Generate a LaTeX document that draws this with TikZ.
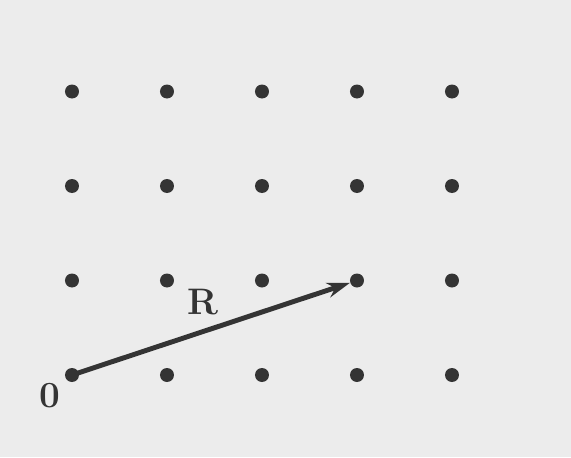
\documentclass[tikz,border=0pt]{standalone}
\usepackage{tikz}
\usetikzlibrary{arrows.meta,positioning}
\definecolor{paper}{RGB}{236,236,236}
\definecolor{ink}{RGB}{52,52,52}
\tikzset{
  latpt/.style  ={circle, fill=ink, minimum size=2.8mm, inner sep=0pt},
  vecarr/.style ={-{Stealth[length=4.6mm, width=3mm]}, line width=2.8pt, ink},
  lbl/.style    ={font=\fontsize{21}{25}\selectfont\bfseries, text=ink, inner sep=0pt},
}
\begin{document}
\begin{tikzpicture}[>=Stealth]
\fill[paper] (-1.44,-1.64) rectangle (9.98,7.50);
\useasboundingbox (-1.44,-1.64) rectangle (9.98,7.50);
\foreach \i in {0,...,4}
  \foreach \j in {0,...,3}
    \node[latpt] (d-\i-\j) at (1.9*\i,1.89*\j) {};
\draw[vecarr] (d-0-0.center) -- (d-3-1);
\node[lbl] (lR) at (2.62,1.46) {R};
\node[lbl, below left=0.05cm and 0.12cm of d-0-0] (l0) {0};
\end{tikzpicture}
\end{document}
